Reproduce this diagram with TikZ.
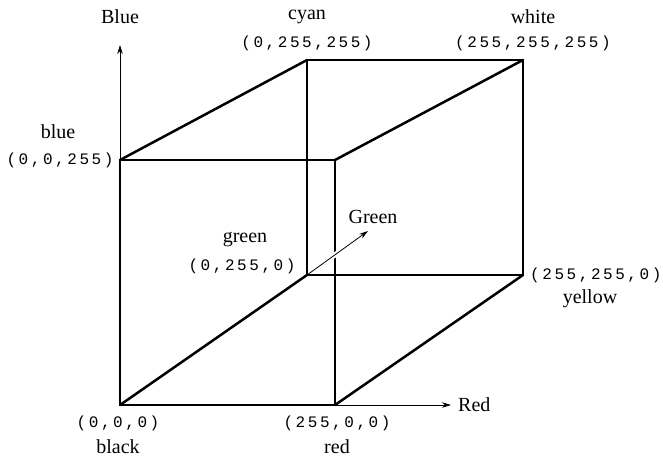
\documentclass[tikz,border=0pt]{standalone}
\usepackage{fontspec}
\setmainfont{Liberation Serif}
\newfontfamily\codefont[LetterSpace=16]{Liberation Mono}
\usetikzlibrary{arrows.meta,calc}
\tikzset{
  edge/.style={line width=2.5pt, line cap=round, line join=round},
  axis/.style={line width=0.8pt, -{Stealth[length=9pt,width=5.5pt]}},
  lbl/.style={inner sep=0pt, font=\fontsize{20}{23}\selectfont},
  code/.style={inner sep=0pt, font=\codefont\fontsize{16}{19}\selectfont},
}
\begin{document}
\begin{tikzpicture}[x=1pt,y=-1pt]
\useasboundingbox (0,0) rectangle (663,459);
% vertices
\coordinate (K) at (120,405);
\coordinate (R) at (335,405);
\coordinate (M) at (335,160);
\coordinate (B) at (120,160);
\coordinate (G) at (307,275);
\coordinate (Y) at (523,275);
\coordinate (W) at (523,60);
\coordinate (C) at (307,60);
% axis ends
\coordinate (Btip) at (120,45);
\coordinate (Rtip) at (451,405);
\coordinate (Gtip) at (368,231);
% back face
\draw[edge] (G) -- (Y) -- (W) -- (C) -- cycle;
% connecting edges
\draw[edge] (K) -- (G);
\draw[edge] (R) -- (Y);
\draw[edge] (B) -- (C);
\draw[edge] (M) -- (W);
% front face
\draw[edge] (K) -- (R) -- (M) -- (B) -- cycle;
% axes
\draw[axis] (B) -- (Btip);
\draw[axis] (R) -- (Rtip);
\draw[white, line width=5pt] ($(G)!0.36!(Gtip)$) -- ($(G)!0.58!(Gtip)$);
\draw[axis] (G) -- (Gtip);
% labels
\node[lbl] (lBlue) at (120,17) {Blue};
\node[lbl] (lRed) [anchor=west] at (458,405) {Red};
\node[lbl] (lGreen) at (373,217) {Green};
\node[lbl] (lcyan) at (307,17) {cyan};
\node[code] (ccyan) at (307,43) {(0,255,255)};
\node[lbl] (lwhite) at (533,17) {white};
\node[code] (cwhite) at (533,43) {(255,255,255)};
\node[lbl] (lblue) at (58,132) {blue};
\node[code] (cblue) at (60,160) {(0,0,255)};
\node[lbl] (lgreen) at (245,240) {green};
\node[code] (cgreen) at (242,266) {(0,255,0)};
\node[code] (cyellow) [anchor=west] at (530,275) {(255,255,0)};
\node[lbl] (lyellow) at (590,299) {yellow};
\node[code] (cblack) at (118,423) {(0,0,0)};
\node[lbl] (lblack) at (118,447) {black};
\node[code] (cred) at (337,423) {(255,0,0)};
\node[lbl] (lred) at (337,447) {red};
\end{tikzpicture}
\end{document}
